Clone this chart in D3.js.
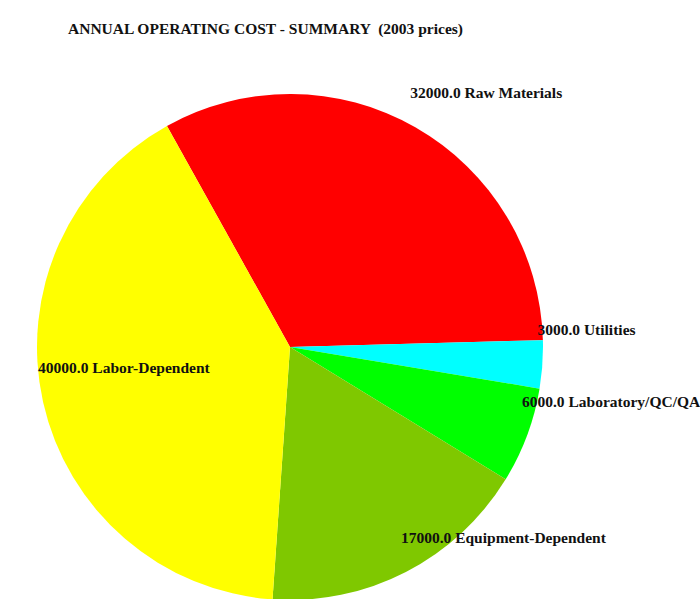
<!DOCTYPE html>
<html>
<head>
<meta charset="utf-8">
<script src="https://cdn.jsdelivr.net/npm/d3@7"></script>
<style>
  html, body { margin: 0; padding: 0; background: #fff; }
  svg { display: block; }
  text { font-family: "Liberation Serif", "Times New Roman", serif; font-weight: bold; fill: #111; }
</style>
</head>
<body>
<div id="chart"></div>
<script>
// Annual operating cost breakdown (2003 prices)
const categories = ["Raw Materials", "Utilities", "Laboratory/QC/QA", "Equipment-Dependent", "Labor-Dependent"];
const costs = [32000, 3000, 6000, 17000, 40000];
const sliceColors = ["#ff0000", "#00ffff", "#00ff00", "#7fc800", "#ffff00"];
const title = "ANNUAL OPERATING COST - SUMMARY  (2003 prices)";

const width = 700, height = 599;
const cx = 290, cy = 347, radius = 253;
const startDeg = -29.1;

const svg = d3.select("#chart").append("svg")
  .attr("width", width).attr("height", height);

svg.append("text")
  .attr("x", 68).attr("y", 34)
  .attr("font-size", 14)
  .attr("textLength", 395)
  .attr("lengthAdjust", "spacingAndGlyphs")
  .style("white-space", "pre")
  .text(title);

const data = categories.map((c, i) => ({ name: c, value: costs[i], color: sliceColors[i] }));

const start = startDeg * Math.PI / 180;
const pie = d3.pie().sort(null).value(d => d.value)
  .startAngle(start).endAngle(start + 2 * Math.PI);
const arc = d3.arc().innerRadius(0).outerRadius(radius);

const g = svg.append("g").attr("transform", `translate(${cx},${cy})`);
const arcs = pie(data);

g.selectAll("path").data(arcs).join("path")
  .attr("d", arc)
  .attr("fill", d => d.data.color);

// Labels start just inside the rim point at each slice's mid-angle, raised above it
g.selectAll("text.lbl").data(arcs).join("text")
  .attr("class", "lbl")
  .attr("font-size", 15.5)
  .attr("x", d => radius * Math.sin((d.startAngle + d.endAngle) / 2) - 5)
  .attr("y", d => -radius * Math.cos((d.startAngle + d.endAngle) / 2) - 29)
  .text(d => d3.format(".1f")(d.value) + " " + d.data.name);
</script>
</body>
</html>
